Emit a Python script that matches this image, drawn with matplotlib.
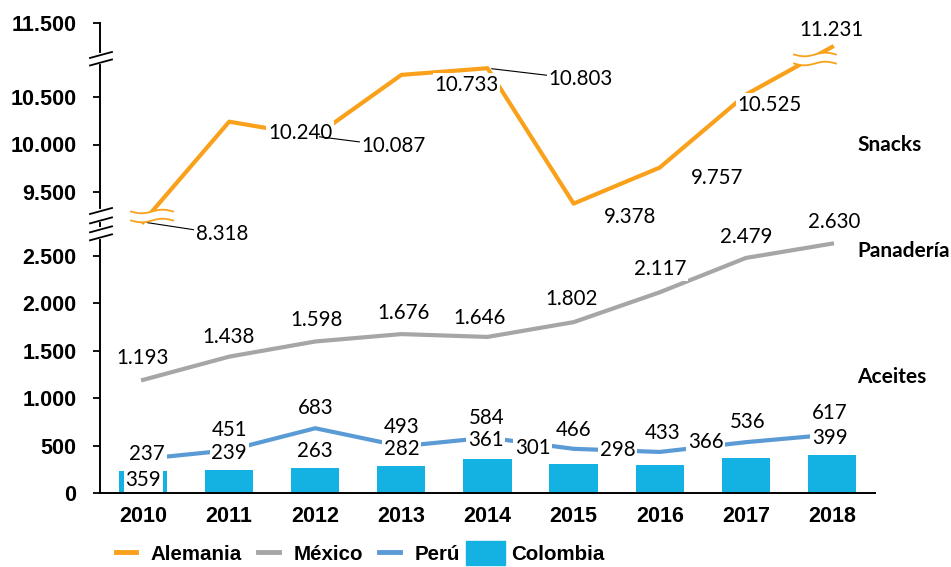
import numpy as np
import matplotlib
matplotlib.use('Agg')
import matplotlib.pyplot as plt
from matplotlib.lines import Line2D
from matplotlib.patches import Patch, Rectangle, Polygon
from matplotlib.legend_handler import HandlerPatch
from matplotlib.ticker import FixedLocator, FuncFormatter
from matplotlib.transforms import IdentityTransform

# Data
years = ['2010', '2011', '2012', '2013', '2014', '2015', '2016', '2017', '2018']
alemania = [8318, 10240, 10087, 10733, 10803, 9378, 9757, 10525, 11231]
mexico = [1193, 1438, 1598, 1676, 1646, 1802, 2117, 2479, 2630]
peru = [359, 451, 683, 493, 584, 466, 433, 536, 617]
colombia = [237, 239, 263, 282, 361, 301, 298, 366, 399]
y_ticks = [0, 500, 1000, 1500, 2000, 2500, 9500, 10000, 10500, 11500]

# label offsets in pixels (dx, dy) from each point
off_alemania = [(79, -12), (71, -11), (78, -10), (65, -10), (93, -11),
                (56, -13), (57, -10), (24, -10), (0, 17)]
leader_alemania = [True, False, True, False, True, False, False, False, False]
off_mexico = [(0, 22), (-1, 20), (1, 21), (2, 21), (-8, 19),
              (-2, 23), (0, 23), (0, 21), (2, 22)]
off_peru = [(0, -21), (0, 20), (0, 20), (0, 19), (-1, 20),
            (0, 19), (3, 19), (2, 20), (-2, 21)]
off_colombia = [(4, 17), (0, 17), (0, 17), (0, 17), (-2, 19),
                (-41, 16), (-42, 15), (-40, 16), (-2, 17)]

C_ALE = '#F9A11B'
C_MEX = '#A6A6A6'
C_PER = '#5B9BD5'
C_COL = '#14B1E3'

# broken value axis: piecewise linear mapping value -> height
brk_vals = [-1000, 0, 2700, 8318, 9300, 10900, 11231, 11500, 12500]
brk_hts = [-94.8, 0, 256, 271, 282, 434, 446, 470, 565]


def fwd(v):
    return np.interp(v, brk_vals, brk_hts)


def inv(h):
    return np.interp(h, brk_hts, brk_vals)


W, H = 951, 567
fig = plt.figure(figsize=(W / 100, H / 100), dpi=100)
ax = fig.add_axes([100 / W, 74 / H, 775 / W, 470 / H])
ax.set_yscale('function', functions=(fwd, inv))
ax.set_ylim(0, 11500)
ax.set_xlim(-0.5, 8.5)

x = np.arange(len(years))
ax.bar(x, colombia, width=0.56, color=C_COL, zorder=2)
ax.plot(x, mexico, color=C_MEX, lw=3, zorder=3)
ax.plot(x, peru, color=C_PER, lw=3, zorder=3)
ax.plot(x, alemania, color=C_ALE, lw=3, zorder=3)

for s in ['top', 'right']:
    ax.spines[s].set_visible(False)
for s in ['left', 'bottom']:
    ax.spines[s].set_linewidth(1.4)

ax.yaxis.set_major_locator(FixedLocator(y_ticks))
ax.yaxis.set_minor_locator(FixedLocator([]))
ax.yaxis.set_major_formatter(FuncFormatter(lambda v, p: f'{v:,.0f}'.replace(',', '.')))
ax.set_xticks(x)
ax.set_xticklabels(years)
ax.tick_params(axis='y', length=5, width=1.3, pad=12)
ax.tick_params(axis='x', length=0, pad=9)
for lab in ax.get_xticklabels() + ax.get_yticklabels():
    lab.set_fontfamily('Liberation Sans')
    lab.set_fontweight('bold')
    lab.set_fontsize(15.5)


def label(xi, v, txt, off, leader=False):
    ax.annotate(txt, (xi, v), xytext=off, textcoords='offset pixels',
                ha='center', va='center', fontsize=14.8, family='Lato', zorder=5,
                bbox=dict(boxstyle='square,pad=0.08', fc='white', ec='none'),
                arrowprops=dict(arrowstyle='-', color='black', lw=0.8,
                                shrinkA=0, shrinkB=3) if leader else None)


def fmt(v):
    return f'{v:,}'.replace(',', '.')


for i in range(len(years)):
    label(x[i], alemania[i], fmt(alemania[i]), off_alemania[i], leader_alemania[i])
    label(x[i], mexico[i], fmt(mexico[i]), off_mexico[i])
    label(x[i], peru[i], fmt(peru[i]), off_peru[i])
    label(x[i], colombia[i], fmt(colombia[i]), off_colombia[i])


# wavy break marks on the orange line
def squiggle(xi, v, dx, dy):
    px, py = ax.transData.transform((xi, v))
    cx, cy = px + dx, py + dy
    t = np.linspace(-21, 21, 50)
    w = 1.8 * np.sin(t / 21 * np.pi)
    top = np.column_stack([cx + t, cy + 4.5 + w])
    bot = np.column_stack([cx + t, cy - 4.5 + w])
    fig.add_artist(Polygon(np.vstack([top, bot[::-1]]), closed=True, fc='white',
                           ec='none', transform=IdentityTransform(), zorder=4))
    for arr in (top, bot):
        fig.add_artist(Line2D(arr[:, 0], arr[:, 1], color=C_ALE, lw=1.3,
                              transform=IdentityTransform(), zorder=4))


squiggle(x[0], alemania[0], 9, 6)
squiggle(x[-1], alemania[-1], -17, -12)

# double slashes on the value axis
spine_x = ax.transAxes.transform((0, 0))[0]
for fa, fb in [(0.932, 0.916), (0.600, 0.580), (0.561, 0.544)]:
    ya = ax.transAxes.transform((0, fa))[1]
    yb = ax.transAxes.transform((0, fb))[1]
    fig.add_artist(Line2D([spine_x, spine_x], [yb, ya], color='white', lw=3,
                          transform=IdentityTransform(), zorder=4))
    for yy in (ya, yb):
        fig.add_artist(Line2D([spine_x - 10, spine_x + 12], [yy - 3, yy + 3],
                              color='black', lw=1.3, transform=IdentityTransform(),
                              zorder=5))

# category names on the right
for txt, yy in [('Snacks', 145), ('Panadería', 251), ('Aceites', 377)]:
    fig.text(857 / W, 1 - yy / H, txt, ha='left', va='center', family='Lato',
             fontweight='bold', fontsize=15)


def wide_patch(legend, orig_handle, xdescent, ydescent, width, height, fontsize):
    return Rectangle((-xdescent - 7, -ydescent - 4), width + 13, height + 7)


handles = [Line2D([], [], color=C_ALE, lw=3.5),
           Line2D([], [], color=C_MEX, lw=3.5),
           Line2D([], [], color=C_PER, lw=3.5),
           Patch(color=C_COL)]
fig.legend(handles, ['Alemania', 'México', 'Perú', 'Colombia'], loc='center',
           bbox_to_anchor=(360 / W, 13 / H), ncol=4, frameon=False,
           prop={'family': 'Liberation Sans', 'weight': 'bold', 'size': 14.8},
           handlelength=1.0, handletextpad=0.7, columnspacing=0.8,
           handler_map={Patch: HandlerPatch(patch_func=wide_patch)})

fig.savefig('out.png', dpi=100)
